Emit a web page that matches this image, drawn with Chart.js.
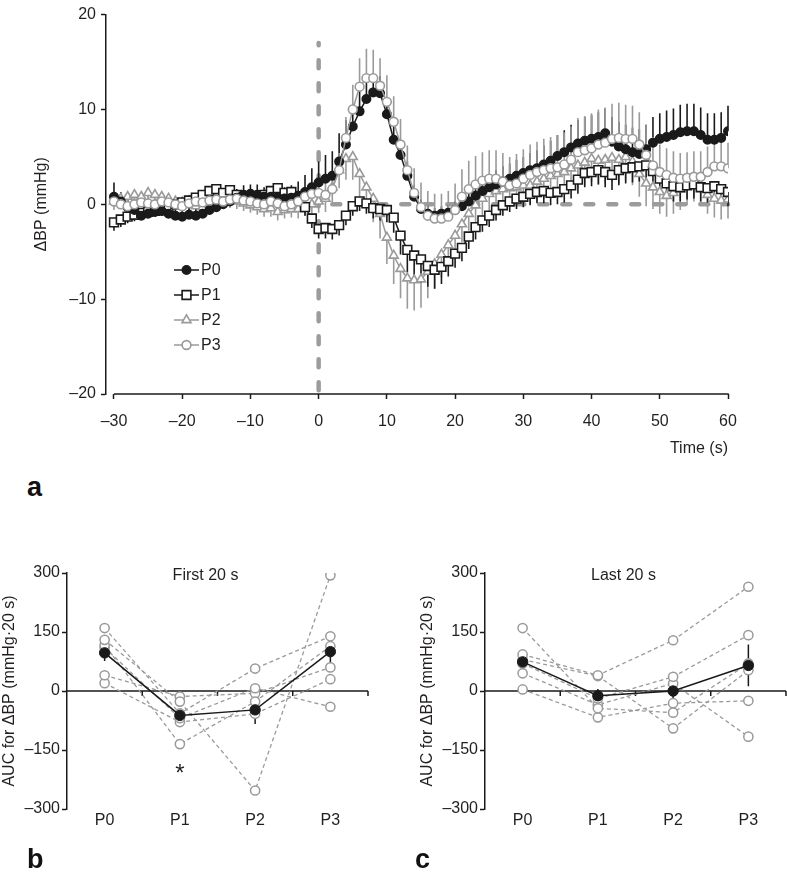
<!DOCTYPE html>
<html><head><meta charset="utf-8">
<script src="https://cdn.jsdelivr.net/npm/chart.js@4.4.1/dist/chart.umd.min.js"></script>
<style>
html,body{margin:0;padding:0;background:#fff;}
body{width:787px;height:876px;position:relative;overflow:hidden;font-family:"Liberation Sans",Arial,Helvetica,sans-serif;}
canvas{position:absolute;}
.lbl{position:absolute;font-weight:bold;font-size:27px;color:#111;line-height:1;}
</style></head><body>
<canvas id="ca" width="787" height="470" style="left:0;top:0"></canvas>
<canvas id="cb" width="400" height="326" style="left:0;top:550px"></canvas>
<canvas id="cc" width="369" height="326" style="left:418px;top:550px"></canvas>
<div class="lbl" style="left:27px;top:474px">a</div>
<div class="lbl" style="left:27px;top:846px">b</div>
<div class="lbl" style="left:415px;top:846px">c</div>
<script>
// ---------- DATA: panel a ----------
const timeS = [-30,-29,-28,-27,-26,-25,-24,-23,-22,-21,-20,-19,-18,-17,-16,-15,-14,-13,-12,-11,-10,-9,-8,-7,-6,-5,-4,-3,-2,-1,0,1,2,3,4,5,6,7,8,9,10,11,12,13,14,15,16,17,18,19,20,21,22,23,24,25,26,27,28,29,30,31,32,33,34,35,36,37,38,39,40,41,42,43,44,45,46,47,48,49,50,51,52,53,54,55,56,57,58,59,60];
const timeTicks = [-30,-20,-10,0,10,20,30,40,50,60];
const bpTicks = [-20,-10,0,10,20];
const seriesNames = ['P0','P1','P2','P3'];

const p0 = [0.8,0.3,-0.3,-0.6,-1.2,-1.0,-0.8,-0.7,-1.0,-1.2,
 -1.3,-1.1,-1.2,-1.0,-0.6,-0.3,0.0,0.3,0.7,1.0,
 1.1,1.0,0.8,0.8,0.7,0.6,0.7,0.9,1.3,1.8,
 2.3,2.7,3.0,4.5,6.3,8.2,9.8,11.1,11.8,11.7,
 9.5,6.8,5.2,3.0,0.8,-0.5,-1.0,-1.2,-1.0,-0.9,
 -0.6,-0.2,0.3,0.9,1.4,1.8,2.1,2.4,2.7,3.0,
 3.3,3.6,3.8,4.2,4.6,5.1,5.5,6.0,6.4,6.7,
 6.9,7.1,7.5,6.6,6.1,5.8,5.5,5.3,5.8,6.5,
 6.9,7.1,7.3,7.6,7.7,7.7,7.3,6.8,6.8,7.0,7.7];
const p1 = [-1.9,-1.6,-1.3,-1.1,-0.9,-0.8,-0.7,-0.6,-0.3,0.0,
 0.2,0.4,0.7,1.0,1.4,1.6,1.2,1.5,1.0,0.8,
 0.6,0.8,1.0,1.4,1.7,1.2,1.3,0.5,-0.3,-1.5,
 -2.6,-2.5,-2.6,-2.2,-1.2,-0.2,0.3,0.1,-0.4,-0.5,
 -0.6,-1.4,-3.3,-4.8,-5.4,-5.8,-6.5,-6.9,-6.6,-6.0,
 -5.2,-4.6,-3.4,-2.4,-1.7,-1.2,-0.6,-0.1,0.3,0.6,
 0.8,1.1,1.3,1.4,1.2,1.3,1.6,2.0,2.6,3.3,
 3.4,3.6,3.4,3.1,3.6,3.8,3.9,4.0,4.1,3.5,
 2.7,2.2,1.9,1.8,2.0,2.1,1.8,1.7,1.9,1.6,1.3];
const p2 = [0.3,0.6,0.8,1.0,0.8,1.2,1.0,0.8,0.6,0.3,
 0.2,0.0,-0.2,-0.3,0.0,0.3,0.5,0.4,0.3,0.1,
 -0.1,-0.3,-0.5,-0.4,-0.8,-0.6,-0.5,-0.5,-0.2,0.0,
 0.3,0.6,1.8,3.6,4.8,5.0,3.2,1.8,0.6,-1.0,
 -3.5,-5.4,-6.8,-7.8,-8.0,-7.9,-7.1,-6.3,-5.3,-4.3,
 -3.3,-2.1,-1.0,-0.1,0.6,1.1,1.4,1.6,1.7,1.8,
 2.0,2.0,2.4,2.7,3.0,3.2,3.4,3.8,4.1,4.4,
 4.8,4.6,4.7,4.9,4.7,5.0,4.5,3.2,2.2,1.8,
 1.3,0.9,1.2,1.6,2.0,2.4,2.0,1.0,0.6,0.4,0.5];
const p3 = [0.3,0.0,-0.2,0.0,0.2,0.1,0.0,0.3,0.2,0.0,
 -0.2,0.1,0.3,0.2,0.4,0.5,0.3,0.5,0.6,0.4,
 0.3,0.1,0.0,0.3,0.1,-0.2,0.0,0.3,0.8,1.1,
 1.2,1.0,1.6,3.6,7.0,10.0,12.4,13.3,13.3,12.5,
 10.8,8.7,6.3,3.6,1.2,-0.3,-1.2,-1.5,-1.5,-1.3,
 -0.6,0.8,1.6,2.1,2.5,2.7,2.7,2.4,2.0,2.2,
 2.7,3.1,3.4,3.6,3.8,3.9,4.2,4.7,5.5,5.7,
 5.9,6.3,6.5,6.9,7.0,6.9,6.9,6.3,5.2,4.1,
 3.4,3.1,2.8,2.7,2.8,2.9,2.9,3.4,4.0,4.0,3.8];
// standard errors (P0 & P3 drawn upward, P1 & P2 drawn downward)
const p0Err = [1.5,1.0,0.9,0.8,0.8,0.9,0.8,0.8,0.7,0.8,
 0.8,0.7,0.8,0.8,0.7,0.8,0.9,0.8,0.9,1.0,
 1.0,1.1,1.0,1.1,1.2,1.2,1.3,1.5,1.8,2.0,
 2.2,2.5,2.6,3.0,2.6,2.4,2.2,2.0,1.8,1.8,
 1.8,1.6,1.6,1.5,1.2,1.0,0.9,0.8,0.8,0.8,
 0.9,1.0,1.1,1.2,1.3,1.4,1.5,1.6,1.6,1.7,
 1.7,1.8,1.9,2.0,2.1,2.2,2.3,2.4,2.5,2.5,
 2.5,2.6,2.6,2.6,2.6,2.6,2.6,2.6,2.6,2.7,
 2.7,2.8,2.8,2.9,2.9,2.9,2.9,2.8,2.8,2.7,2.7];
const p1Err = [0.9,0.8,0.7,0.7,0.6,0.6,0.6,0.6,0.6,0.6,
 0.6,0.6,0.6,0.6,0.7,0.7,0.7,0.7,0.7,0.7,
 0.7,0.7,0.7,0.7,0.8,0.8,0.8,0.8,0.9,1.0,
 1.0,1.1,1.1,1.1,1.0,1.0,1.0,1.1,1.1,1.2,
 1.3,1.6,2.0,2.4,2.6,2.5,2.2,2.0,1.8,1.6,
 1.5,1.4,1.3,1.3,1.2,1.2,1.1,1.1,1.1,1.1,
 1.1,1.2,1.2,1.3,1.3,1.3,1.4,1.4,1.5,1.5,
 1.5,1.5,1.6,1.6,1.6,1.6,1.6,1.6,1.6,1.6,
 1.6,1.6,1.6,1.5,1.5,1.5,1.5,1.5,1.5,1.5,1.5];
const p2Err = [0.9,0.9,0.8,0.8,0.8,0.8,0.8,0.8,0.8,0.8,
 0.8,0.8,0.8,0.8,0.8,0.8,0.8,0.8,0.8,0.8,
 0.8,0.8,0.8,0.9,0.9,0.9,0.9,1.0,1.0,1.1,
 1.2,1.4,1.6,1.9,2.2,2.4,2.4,2.4,2.5,2.6,
 2.8,3.0,3.1,3.2,3.2,3.0,2.8,2.6,2.4,2.2,
 2.0,1.9,1.8,1.8,1.8,1.8,1.8,1.9,1.9,2.0,
 2.0,2.0,2.1,2.1,2.2,2.2,2.3,2.3,2.4,2.4,
 2.4,2.5,2.5,2.5,2.5,2.5,2.5,2.4,2.4,2.3,
 2.3,2.2,2.2,2.2,2.1,2.1,2.0,2.0,2.0,2.0,2.0];
const p3Err = [1.0,0.9,0.9,0.9,0.9,0.9,0.9,0.9,0.9,0.9,
 0.9,0.9,0.9,0.9,0.9,0.9,0.9,0.9,0.9,0.9,
 0.9,0.9,0.9,0.9,0.9,0.9,0.9,1.0,1.0,1.1,
 1.2,1.3,1.5,1.8,2.2,2.6,3.0,3.1,3.0,2.9,
 2.8,2.7,2.7,2.6,2.6,2.6,2.6,2.6,2.6,2.7,
 2.8,2.9,3.0,3.0,3.0,3.0,3.0,3.0,3.0,3.1,
 3.1,3.2,3.2,3.3,3.3,3.4,3.4,3.5,3.6,3.6,
 3.7,3.7,3.7,3.7,3.7,3.6,3.5,3.4,3.2,3.0,
 2.9,2.8,2.8,2.7,2.7,2.7,2.7,2.7,2.7,2.7,2.7];

// ---------- DATA: panels b & c ----------
const groups = ['P0','P1','P2','P3'];
const aucTicks = [-300,-150,0,150,300];
const first20_s1 = [160, -57, 57, 139];
const first20_s2 = [130, -27, -253, 294];
const first20_s3 = [117, -135, -27, 114];
const first20_s4 = [110, -69, 7, -40];
const first20_s5 = [40, -14, -6, 60];
const first20_s6 = [20, -79, -58, 30];
const first20_mean = [97, -62, -48, 100];
const first20_err = [21, 15, 36, 40];
const first20_sig = ['', '*', '', ''];
const last20_s1 = [160, -44, -55, 70];
const last20_s2 = [93, 40, 129, 265];
const last20_s3 = [80, 38, -95, 53];
const last20_s4 = [70, -19, 36, 142];
const last20_s5 = [45, -35, 19, -116];
const last20_s6 = [4, -67, -31, -25];
const last20_mean = [74, -12, 0, 65];
const last20_err = [19, 17, 31, 53];

// ---------- STYLE ----------
const FONT = '"Liberation Sans", Arial, Helvetica, sans-serif';
Chart.defaults.font.family = FONT;
Chart.defaults.font.size = 16;
Chart.defaults.color = '#231f20';
const BLACK = '#1a1a1a', GRAY = '#9a9a9a';
const dash = v => String(v).replace('-', '\u2013');

// ---------- plugins ----------
const errorBars = {
  id: 'errorBars',
  beforeDatasetsDraw(chart) {
    const ctx = chart.ctx, ys = chart.scales.y;
    const idx = chart.data.datasets.map((d, i) => i).sort((a, b) => (chart.data.datasets[b].order || 0) - (chart.data.datasets[a].order || 0));
    ctx.save();
    ctx.beginPath();
    ctx.rect(chart.chartArea.left - 10, chart.chartArea.top - 10, chart.chartArea.width + 20, chart.chartArea.height + 20);
    ctx.clip();
    idx.forEach(di => {
      const ds = chart.data.datasets[di];
      if (!ds.errs) return;
      const meta = chart.getDatasetMeta(di);
      ctx.strokeStyle = ds.errColor || ds.borderColor;
      ctx.lineWidth = ds.errWidth || 1.5;
      meta.data.forEach((pt, i) => {
        const v = ds.data[i].y, e = ds.errs[i];
        ctx.beginPath();
        if (ds.errDir >= 0) { ctx.moveTo(pt.x, pt.y); ctx.lineTo(pt.x, ys.getPixelForValue(v + e)); }
        if (ds.errDir <= 0) { ctx.moveTo(pt.x, pt.y); ctx.lineTo(pt.x, ys.getPixelForValue(v - e)); }
        ctx.stroke();
      });
    });
    ctx.restore();
  }
};

const refLinesA = {
  id: 'refLinesA',
  beforeDatasetsDraw(chart) {
    const {ctx, scales: {x, y}, chartArea} = chart;
    ctx.save();
    ctx.strokeStyle = '#9c9c9c';
    ctx.lineWidth = 4.5;
    ctx.lineCap = 'round';
    ctx.setLineDash([8, 15]);
    ctx.beginPath();
    ctx.moveTo(x.getPixelForValue(0), y.getPixelForValue(-19.6));
    ctx.lineTo(x.getPixelForValue(0), y.getPixelForValue(17));
    ctx.stroke();
    ctx.beginPath();
    ctx.moveTo(x.getPixelForValue(2), y.getPixelForValue(0));
    ctx.lineTo(x.getPixelForValue(60), y.getPixelForValue(0));
    ctx.stroke();
    ctx.setLineDash([]);
    // x axis line (detached from y axis)
    ctx.strokeStyle = BLACK; ctx.lineWidth = 1.5; ctx.lineCap = 'butt';
    ctx.beginPath();
    ctx.moveTo(x.getPixelForValue(-30), chartArea.bottom);
    ctx.lineTo(x.getPixelForValue(60) + 0.75, chartArea.bottom);
    ctx.stroke();
    ctx.restore();
  }
};

const legendA = {
  id: 'legendA',
  afterDraw(chart) {
    const ctx = chart.ctx;
    const x0 = 174, x1 = 199, xm = 186.5, xt = 201;
    ctx.save();
    seriesNames.forEach((name, k) => {
      const ds = chart.data.datasets.find(d => d.label === name);
      const yy = 270 + 25 * k;
      ctx.strokeStyle = ds.borderColor; ctx.lineWidth = ds.borderWidth;
      ctx.beginPath(); ctx.moveTo(x0, yy); ctx.lineTo(x1, yy); ctx.stroke();
      ctx.fillStyle = ds.pointBackgroundColor; ctx.strokeStyle = ds.pointBorderColor; ctx.lineWidth = ds.pointBorderWidth;
      Chart.helpers.drawPoint(ctx, {pointStyle: ds.pointStyle, radius: ds.pointRadius, rotation: 0, borderWidth: ds.pointBorderWidth}, xm, yy);
      ctx.fillStyle = '#231f20';
      ctx.font = '16px ' + FONT;
      ctx.textAlign = 'left'; ctx.textBaseline = 'middle';
      ctx.fillText(name, xt, yy + 1);
    });
    ctx.restore();
  }
};

const zeroAxis = {
  id: 'zeroAxis',
  beforeDatasetsDraw(chart) {
    const {ctx, scales: {x, y}} = chart;
    const yy = y.getPixelForValue(0);
    ctx.save();
    ctx.strokeStyle = BLACK; ctx.lineWidth = 1.5;
    ctx.beginPath();
    ctx.moveTo(x.getPixelForValue(-0.5), yy);
    ctx.lineTo(x.getPixelForValue(3.5), yy);
    [0.5, 1.5, 2.5, 3.5].forEach(b => {
      const xx = x.getPixelForValue(b);
      ctx.moveTo(xx, yy); ctx.lineTo(xx, yy + 5);
    });
    ctx.stroke();
    ctx.restore();
  },
  afterDraw(chart) {
    const {ctx, scales: {x, y}, chartArea} = chart;
    const o = chart.options.plugins.zeroAxis || {};
    ctx.save();
    ctx.fillStyle = '#231f20';
    ctx.font = '16px ' + FONT;
    ctx.textAlign = 'center'; ctx.textBaseline = 'middle';
    if (o.title) ctx.fillText(o.title, (chartArea.left + chartArea.right) / 2 - 12, chartArea.top + 3);
    if (o.sig) {
      ctx.font = '24px ' + FONT;
      o.sig.forEach((s, i) => { if (s) ctx.fillText(s, x.getPixelForValue(i), y.getPixelForValue(-212)); });
    }
    ctx.restore();
  }
};

// ---------- panel a ----------
function seriesA(label, vals, errs, dir, color, fill, style, radius, order) {
  return {
    label, order,
    data: timeS.map((t, i) => ({x: t, y: vals[i]})),
    errs, errDir: dir, errColor: color, errWidth: 1.6,
    borderColor: color, borderWidth: 1.5, tension: 0,
    pointStyle: style, pointRadius: radius, pointBorderWidth: 1.6,
    pointBackgroundColor: fill, pointBorderColor: color
  };
}
new Chart(document.getElementById('ca'), {
  type: 'line',
  data: {
    datasets: [
      seriesA('P0', p0, p0Err, 1, BLACK, BLACK, 'circle', 4.2, 1),
      seriesA('P1', p1, p1Err, -1, BLACK, '#ffffff', 'rect', 6.2, 2),
      seriesA('P2', p2, p2Err, -1, GRAY, '#ffffff', 'triangle', 5.2, 3),
      seriesA('P3', p3, p3Err, 1, GRAY, '#ffffff', 'circle', 4.4, 0)
    ]
  },
  options: {
    responsive: false, animation: false, devicePixelRatio: 1,
    layout: {autoPadding: false, padding: {left: 0, right: 59, top: 6, bottom: 0}},
    plugins: {legend: {display: false}, tooltip: {enabled: false}},
    scales: {
      x: {
        type: 'linear', min: -31.17, max: 60,
        afterBuildTicks(s) { s.ticks = timeTicks.map(v => ({value: v})); },
        afterFit(s) { s.height = 76; },
        grid: {display: true, drawOnChartArea: false, drawTicks: true, tickLength: 5, tickColor: BLACK, tickWidth: 1.5, color: BLACK},
        border: {display: false},
        ticks: {padding: 13, autoSkip: false, maxRotation: 0, callback: v => dash(v)},
        title: {display: true, text: 'Time (s)', align: 'end', padding: {top: 0, bottom: 12}}
      },
      y: {
        min: -20, max: 20,
        afterBuildTicks(s) { s.ticks = bpTicks.map(v => ({value: v})); },
        afterFit(s) { s.width = 106; },
        grid: {display: true, drawOnChartArea: false, drawTicks: true, tickLength: 5, tickColor: BLACK, tickWidth: 1.5, color: BLACK},
        border: {display: true, color: BLACK, width: 1.5},
        ticks: {padding: 5, callback: v => dash(v)},
        title: {display: true, text: '\u0394BP (mmHg)', padding: {top: 32, bottom: 0}}
      }
    }
  },
  plugins: [refLinesA, errorBars, legendA]
});

// ---------- panels b & c ----------
function subj(vals) {
  return {
    data: vals.map((v, i) => ({x: i, y: v})), order: 2,
    borderColor: GRAY, borderWidth: 1.3, borderDash: [4, 3], tension: 0,
    pointStyle: 'circle', pointRadius: 4.6, pointBorderWidth: 1.5,
    pointBackgroundColor: '#ffffff', pointBorderColor: GRAY
  };
}
function meanDs(vals, errs) {
  return {
    data: vals.map((v, i) => ({x: i, y: v})), order: 0,
    errs, errDir: 0, errColor: BLACK, errWidth: 1.5,
    borderColor: BLACK, borderWidth: 1.5, tension: 0,
    pointStyle: 'circle', pointRadius: 5.2, pointBorderWidth: 1,
    pointBackgroundColor: BLACK, pointBorderColor: BLACK
  };
}
function aucChart(id, subjects, mean, err, title, sig) {
  const canvas = document.getElementById(id);
  const rightPad = canvas.width - 368;
  new Chart(canvas, {
    type: 'line',
    data: {datasets: subjects.map(subj).concat([meanDs(mean, err)])},
    options: {
      responsive: false, animation: false, devicePixelRatio: 1,
      layout: {autoPadding: false, padding: {left: 0, right: rightPad, top: 23, bottom: 0}},
      plugins: {legend: {display: false}, tooltip: {enabled: false}, zeroAxis: {title, sig}},
      scales: {
        x: {
          type: 'linear', min: -0.5, max: 3.5,
          afterBuildTicks(s) { s.ticks = groups.map((g, i) => ({value: i})); },
          afterFit(s) { s.height = 67; },
          grid: {display: false, drawTicks: false},
          border: {display: false},
          ticks: {padding: 2, autoSkip: false, maxRotation: 0, callback: v => groups[v]}
        },
        y: {
          min: -300, max: 300,
          afterBuildTicks(s) { s.ticks = aucTicks.map(v => ({value: v})); },
          afterFit(s) { s.width = 67; },
          grid: {display: true, drawOnChartArea: false, drawTicks: true, tickLength: 5, tickColor: BLACK, tickWidth: 1.5, color: BLACK},
          border: {display: true, color: BLACK, width: 1.5},
          ticks: {padding: 2, callback: v => dash(v)},
          title: {display: true, text: 'AUC for \u0394BP (mmHg\u00b720 s)', padding: {top: 0, bottom: 0}}
        }
      }
    },
    plugins: [zeroAxis, errorBars]
  });
}
aucChart('cb', [first20_s1, first20_s2, first20_s3, first20_s4, first20_s5, first20_s6], first20_mean, first20_err, 'First 20 s', first20_sig);
aucChart('cc', [last20_s1, last20_s2, last20_s3, last20_s4, last20_s5, last20_s6], last20_mean, last20_err, 'Last 20 s', null);
</script>
</body></html>
